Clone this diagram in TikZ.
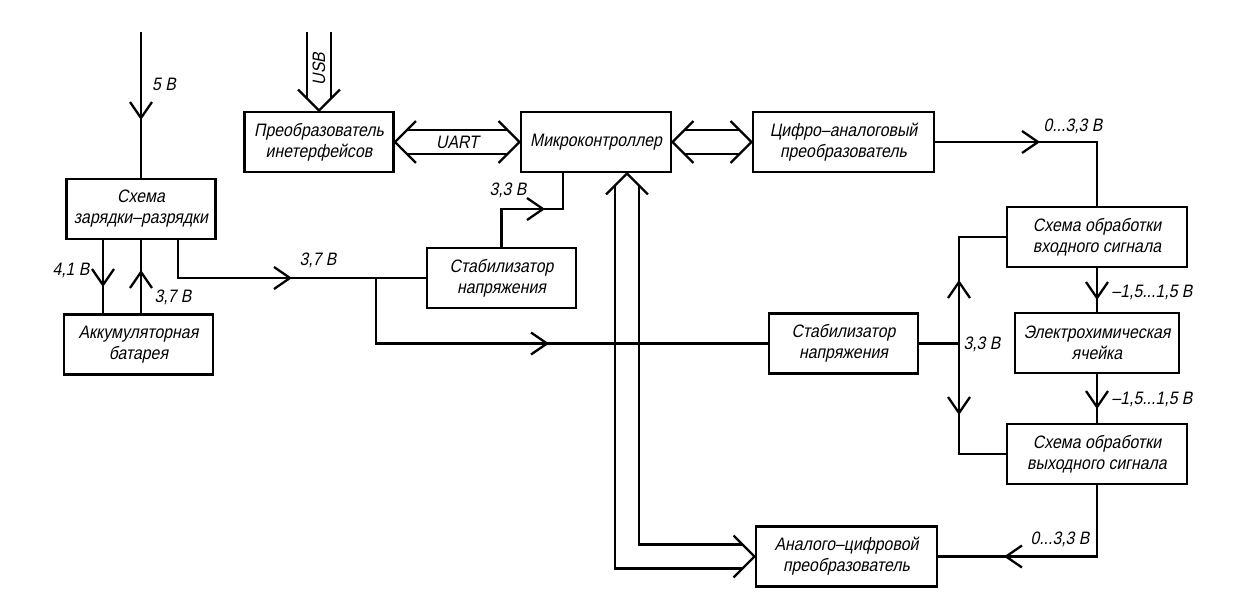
\documentclass[tikz,border=0pt]{standalone}
\usepackage{fontspec}
\setmainfont{Liberation Sans}[FakeSlant=0.2,FakeStretch=0.88]
\begin{document}
\begin{tikzpicture}[x=1pt,y=-1pt,
  conn/.style={line width=2.3pt},
  box/.style={draw,line width=2.8pt,minimum width=#1,minimum height=60pt,inner sep=0pt,align=center,font=\fontsize{18}{21}\selectfont},
  lbl/.style={inner sep=0pt,font=\fontsize{18}{21}\selectfont},
  pics/tipR/.style={code={\draw[conn] (-16,-11) -- (0,0) -- (-16,11);}},
  pics/tipL/.style={code={\draw[conn] (16,-11) -- (0,0) -- (16,11);}},
  pics/tipD/.style={code={\draw[conn] (-11,-16) -- (0,0) -- (11,-16);}},
  pics/tipU/.style={code={\draw[conn] (-11,16) -- (0,0) -- (11,16);}}]
\useasboundingbox (0,0) rectangle (1250,606);

% boxes
\node[box=149pt] (conv) at (319,142) {Преобразователь\\инетерфейсов};
\node[box=150pt] (mcu) at (596,142) {Микроконтроллер};
\node[box=181pt] (dac) at (843.5,142) {Цифро–аналоговый\\преобразователь};
\node[box=149pt] (charge) at (141,209) {Схема\\зарядки–разрядки};
\node[box=149pt] (batt) at (138.5,344.5) {Аккумуляторная\\батарея};
\node[box=149pt] (stab1) at (501.5,278) {Стабилизатор\\напряжения};
\node[box=149pt] (stab2) at (843.5,343.5) {Стабилизатор\\напряжения};
\node[box=180pt] (inproc) at (1097,237) {Схема обработки\\входного сигнала};
\node[box=164pt] (cell) at (1097,343) {Электрохимическая\\ячейка};
\node[box=180pt] (outproc) at (1097,454) {Схема обработки\\выходного сигнала};
\node[box=181pt] (adc) at (846.5,556.5) {Аналого–цифровой\\преобразователь};

% 5 V input
\coordinate (in5) at (141,32);
\draw[conn] (in5) -- (charge.north);
\pic at (141,118) {tipD};
\node[lbl] (l5) at (164,84) {5 В};

% USB bus
\coordinate (uL) at (307,32);
\coordinate (uR) at (331,32);
\draw[conn] ([xshift=-21pt,yshift=21pt]conv.north) -- (conv.north) -- ([xshift=21pt,yshift=21pt]conv.north);
\draw[conn] (uL) -- ([xshift=-12pt,yshift=12pt]conv.north);
\draw[conn] (uR) -- ([xshift=12pt,yshift=12pt]conv.north);
\node[lbl,rotate=90] (lusb) at (319,69) {USB};

% horizontal double (bus) arrows
\newcommand\busH[2]{%
 \draw[conn] ([xshift=21pt,yshift=21pt]#1) -- (#1) -- ([xshift=21pt,yshift=-21pt]#1);
 \draw[conn] ([xshift=-21pt,yshift=21pt]#2) -- (#2) -- ([xshift=-21pt,yshift=-21pt]#2);
 \draw[conn] ([xshift=12pt,yshift=12pt]#1) -- ([xshift=-12pt,yshift=12pt]#2);
 \draw[conn] ([xshift=12pt,yshift=-12pt]#1) -- ([xshift=-12pt,yshift=-12pt]#2);}
\busH{conv.east}{mcu.west}
\node[lbl] (luart) at (457.5,142) {UART};
\busH{mcu.east}{dac.west}

% MCU <-> ADC bus
\coordinate (busX) at (627,0);
\coordinate (mtip) at (mcu.south -| busX);
\draw[conn] ([xshift=-21pt,yshift=-21pt]mtip) -- (mtip) -- ([xshift=21pt,yshift=-21pt]mtip);
\draw[conn] ([xshift=-21pt,yshift=21pt]adc.west) -- (adc.west) -- ([xshift=-21pt,yshift=-21pt]adc.west);
\coordinate (mi) at ([xshift=12pt]mtip);
\coordinate (mo) at ([xshift=-12pt]mtip);
\coordinate (ai) at ([xshift=-12pt,yshift=12pt]adc.west);
\coordinate (ao) at ([xshift=-12pt,yshift=-12pt]adc.west);
\draw[conn] ([yshift=-12pt]mi) -- (mi |- ai) -- (ai);
\draw[conn] ([yshift=-12pt]mo) -- (mo |- ao) -- (ao);

% charge <-> battery
\coordinate (cbL) at (103,0);
\coordinate (cbR) at (141,0);
\draw[conn] (charge.south -| cbL) -- (batt.north -| cbL);
\draw[conn] (batt.north -| cbR) -- (charge.south -| cbR);
\pic at (103,285) {tipD};
\pic at (141,272) {tipU};
\node[lbl] (l41) at (71,270) {4,1 В};
\node[lbl] (l37b) at (173,297) {3,7 В};

% charge -> stabilizers
\coordinate (tapA) at (178,278);
\coordinate (tapB) at (376,278);
\draw[conn] (charge.south -| tapA) -- (tapA) -- (stab1.west);
\draw[conn] (tapB) -- (tapB |- stab2.west) -- (stab2.west);
\pic at (290,278) {tipR};
\pic at (547,343.5) {tipR};
\node[lbl] (l37) at (318,260) {3,7 В};

% stab1 -> MCU
\coordinate (b33) at (563,209);
\draw[conn] (stab1.north) -- (stab1.north |- b33) -- (b33) -- (b33 |- mcu.south);
\pic at (543,209) {tipR};
\node[lbl] (l33a) at (508,190) {3,3 В};

% DAC -> input processing
\draw[conn] (dac.east) -- (dac.east -| inproc.north) -- (inproc.north);
\pic at (1038,142) {tipR};
\node[lbl] (l033a) at (1073,126) {0...3,3 В};

% chain
\draw[conn] (inproc.south) -- (cell.north);
\pic at (1097,298) {tipD};
\node[lbl] (l15a) at (1152,292) {–1,5...1,5 В};
\draw[conn] (cell.south) -- (outproc.north);
\pic at (1097,407) {tipD};
\node[lbl] (l15b) at (1152,399) {–1,5...1,5 В};

% stab2 -> processing circuits
\coordinate (vline) at (959,0);
\draw[conn] (stab2.east) -- (stab2.east -| vline);
\draw[conn] (inproc.west) -- (inproc.west -| vline) -- (outproc.west -| vline) -- (outproc.west);
\pic at (959,282) {tipU};
\pic at (959,413) {tipD};
\node[lbl] (l33b) at (982,344) {3,3 В};

% output processing -> ADC
\draw[conn] (outproc.south) -- (outproc.south |- adc.east) -- (adc.east);
\pic at (1006,556.5) {tipL};
\node[lbl] (l033b) at (1060,539) {0...3,3 В};
\end{tikzpicture}
\end{document}
